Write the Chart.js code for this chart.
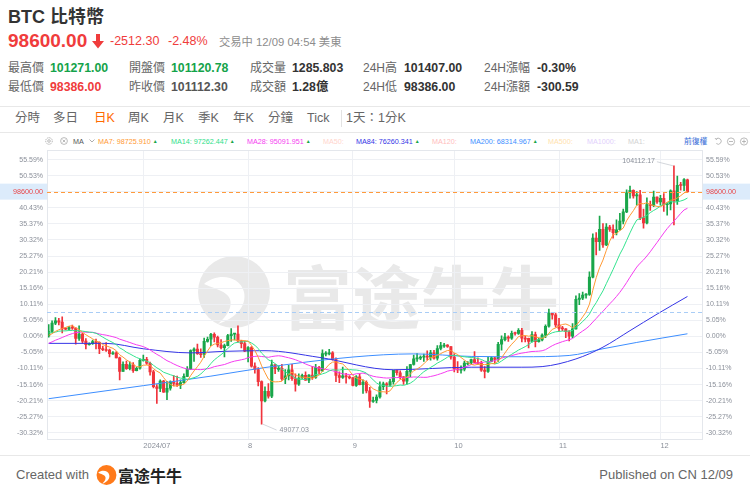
<!DOCTYPE html>
<html><head><meta charset="utf-8">
<script src="https://cdn.jsdelivr.net/npm/chart.js@4.4.1/dist/chart.umd.min.js"></script>
<style>
html,body{margin:0;padding:0}
body{width:750px;height:496px;overflow:hidden;background:#fff;position:relative;font-family:"Liberation Sans","Noto Sans CJK TC",sans-serif;color:#333}
.a{position:absolute;white-space:nowrap}
.lbl{font-size:12px;color:#666;line-height:14px}
.val{font-size:12.3px;font-weight:bold;line-height:14px;color:#333}
.tab{font-size:12.5px;color:#666;line-height:14px}
.leg{font-size:7.2px;line-height:9px}
.tri{color:#18a64a;font-size:5px;vertical-align:1px;margin-left:2px}
#wrap{position:absolute;left:0;top:142px;width:750px;height:311px}
</style></head><body>

<!-- watermark (behind chart) -->
<svg class="a" style="left:196px;top:254px" width="76" height="76" viewBox="0 0 76 76">
  <circle cx="38" cy="38" r="36" fill="#e9e9e9"/>
  <path d="M8 30 C 22 18, 44 22, 48 38 C 51 52, 40 64, 22 70 C 36 58, 38 46, 30 40 C 24 35, 16 34, 8 30 Z" fill="#fff"/>
</svg>
<div class="a" style="left:283px;top:258px;font-size:69px;line-height:72px;font-weight:bold;color:#e9e9e9;font-family:'Noto Sans CJK SC'">富途牛牛</div>

<!-- header -->
<div class="a" style="left:8px;top:7px;font-size:18px;line-height:20px;font-weight:bold;color:#333">BTC 比特幣</div>
<div class="a" style="left:8px;top:30px;font-size:19px;line-height:22px;font-weight:bold;color:#f03c3c">98600.00</div>
<svg class="a" style="left:92px;top:34px" width="12" height="15" viewBox="0 0 12 15"><path d="M4 0 H8 V7 H12 L6 14.5 L0 7 H4 Z" fill="#f03c3c"/></svg>
<div class="a" style="left:110px;top:34px;font-size:12.5px;line-height:15px;color:#f03c3c">-2512.30</div>
<div class="a" style="left:168px;top:34px;font-size:12.5px;line-height:15px;color:#f03c3c">-2.48%</div>
<div class="a" style="left:219px;top:35px;font-size:11.3px;line-height:14px;color:#8c8c8c">交易中 12/09 04:54 美東</div>

<div class="a lbl" style="left:8px;top:61px">最高價</div><div class="a val" style="left:50px;top:61px;color:#14a34a">101271.00</div>
<div class="a lbl" style="left:129px;top:61px">開盤價</div><div class="a val" style="left:171px;top:61px;color:#14a34a">101120.78</div>
<div class="a lbl" style="left:250px;top:61px">成交量</div><div class="a val" style="left:292px;top:61px">1285.803</div>
<div class="a lbl" style="left:363px;top:61px">24H高</div><div class="a val" style="left:404px;top:61px">101407.00</div>
<div class="a lbl" style="left:484px;top:61px">24H漲幅</div><div class="a val" style="left:537px;top:61px">-0.30%</div>

<div class="a lbl" style="left:8px;top:80px">最低價</div><div class="a val" style="left:50px;top:80px;color:#f03c3c">98386.00</div>
<div class="a lbl" style="left:129px;top:80px">昨收價</div><div class="a val" style="left:171px;top:80px;color:#555">101112.30</div>
<div class="a lbl" style="left:250px;top:80px">成交額</div><div class="a val" style="left:292px;top:80px">1.28億</div>
<div class="a lbl" style="left:363px;top:80px">24H低</div><div class="a val" style="left:404px;top:80px">98386.00</div>
<div class="a lbl" style="left:484px;top:80px">24H漲額</div><div class="a val" style="left:537px;top:80px">-300.59</div>

<!-- tabs -->
<div class="a" style="left:0;top:106px;width:750px;height:1px;background:#e8e8e8"></div>
<div class="a tab" style="left:15px;top:111px">分時</div>
<div class="a tab" style="left:53px;top:111px">多日</div>
<div class="a tab" style="left:94px;top:111px;color:#ff6a00">日K</div>
<div class="a tab" style="left:128px;top:111px">周K</div>
<div class="a tab" style="left:163px;top:111px">月K</div>
<div class="a tab" style="left:198px;top:111px">季K</div>
<div class="a tab" style="left:233px;top:111px">年K</div>
<div class="a tab" style="left:268px;top:111px">分鐘</div>
<div class="a tab" style="left:307px;top:111px">Tick</div>
<div class="a" style="left:341px;top:110px;width:1px;height:17px;background:#e3e3e3"></div>
<div class="a tab" style="left:346px;top:111px">1天：1分K</div>
<div class="a" style="left:0;top:132px;width:750px;height:1px;background:#e8e8e8"></div>

<!-- MA legend -->
<svg class="a" style="left:45px;top:137px" width="8" height="8" viewBox="0 0 8 8"><circle cx="4" cy="4" r="3.3" fill="none" stroke="#aaa" stroke-width="0.9" stroke-dasharray="1.4 0.8"/><circle cx="4" cy="4" r="1.3" fill="none" stroke="#aaa" stroke-width="0.8"/></svg>
<svg class="a" style="left:60px;top:137px" width="8" height="8" viewBox="0 0 8 8"><circle cx="4" cy="4" r="3.4" fill="none" stroke="#aaa" stroke-width="0.8"/><path d="M2.6 2.6 L5.4 5.4 M5.4 2.6 L2.6 5.4" stroke="#aaa" stroke-width="0.8"/></svg>
<div class="a leg" style="left:73px;top:136.5px;color:#555">MA</div>
<svg class="a" style="left:89px;top:139px" width="6" height="4" viewBox="0 0 6 4"><path d="M0.5 0.5 L3 3 L5.5 0.5" fill="none" stroke="#999" stroke-width="0.8"/></svg>
<div class="a leg" style="left:98px;top:136.5px;color:#ff9933">MA7: 98725.910<span class="tri">▲</span></div>
<div class="a leg" style="left:171px;top:136.5px;color:#2fe08a">MA14: 97262.447<span class="tri">▲</span></div>
<div class="a leg" style="left:247px;top:136.5px;color:#f53cf0">MA28: 95091.951<span class="tri">▲</span></div>
<div class="a leg" style="left:323px;top:136.5px;color:#ffd4cc">MA50:</div>
<div class="a leg" style="left:356px;top:136.5px;color:#3535e6">MA84: 76260.341<span class="tri">▲</span></div>
<div class="a leg" style="left:432px;top:136.5px;color:#ffbcbc">MA120:</div>
<div class="a leg" style="left:470px;top:136.5px;color:#3d8eff">MA200: 68314.967<span class="tri">▲</span></div>
<div class="a leg" style="left:548px;top:136.5px;color:#ffe2ad">MA500:</div>
<div class="a leg" style="left:587px;top:136.5px;color:#e2cffc">MA1000:</div>
<div class="a leg" style="left:628px;top:136.5px;color:#d2d2d2">MA1:</div>
<div class="a leg" style="left:684px;top:136.5px;color:#3b6fd8;font-size:7.8px">前復權</div>
<svg class="a" style="left:714px;top:137px" width="36" height="9" viewBox="0 0 36 9">
  <path d="M2 2.2 A3 3 0 1 1 2.3 6.5" fill="none" stroke="#aaa" stroke-width="0.8"/><path d="M1 1 L2.2 2.6 L3.6 1.4" fill="none" stroke="#aaa" stroke-width="0.8"/>
  <circle cx="17" cy="4.5" r="3.6" fill="none" stroke="#aaa" stroke-width="0.8"/><path d="M15 4.5 H19" stroke="#aaa" stroke-width="0.8"/>
  <circle cx="30" cy="4.5" r="3.6" fill="none" stroke="#aaa" stroke-width="0.8"/><path d="M28 4.5 H32 M30 2.5 V6.5" stroke="#aaa" stroke-width="0.8"/>
</svg>

<div id="wrap"><canvas id="c" width="750" height="311"></canvas></div>

<!-- footer -->
<div class="a" style="left:0;top:455px;width:750px;height:1px;background:#e8e8e8"></div>
<div class="a" style="left:16px;top:467px;font-size:13px;line-height:16px;color:#666">Created with</div>
<svg class="a" style="left:96px;top:464px" width="21" height="22" viewBox="0 0 76 76">
  <circle cx="38" cy="38" r="36" fill="#ff7a1a"/>
  <path d="M8 30 C 22 18, 44 22, 48 38 C 51 52, 40 64, 22 70 C 36 58, 38 46, 30 40 C 24 35, 16 34, 8 30 Z" fill="#fff"/>
</svg>
<div class="a" style="left:118px;top:466px;font-size:16px;line-height:18px;font-weight:bold;color:#222;font-family:'Noto Sans CJK SC'">富途牛牛</div>
<div class="a" style="right:17px;top:467px;font-size:13px;line-height:16px;color:#666">Published on CN 12/09</div>

<script>
// ---- data (USD), daily candles 2024-06-03 .. 2024-12-09 ----
const priorCloses = [62340,61190,63070,60790,60790,61450,62880,61550,66270,65230,67050,66940,66280,71450,70140,69120,67930,68530,69270,68510,69390,68300,67590,68370,67490,67710,67750];
const opens = [67760,68800,70570,71080,70790,69340,69310,69650,69510,67320,
68240,66760,66010,66190,66640,66490,65160,64960,64830,64100,
64250,63180,60280,61810,60860,61710,60430,60970,62680,62850,
62030,60200,57030,56660,58230,55860,56710,58050,57730,57340,
57900,59230,60790,64720,65040,64090,63990,66700,67150,68190,
67580,65930,65370,65780,67910,68240,68250,66790,66200,64620,
65360,61420,60680,58120,53990,56030,55030,61710,60880,60950,
58720,59350,60610,58740,57560,58890,59480,58440,59490,59010,
61180,60380,64090,64180,64260,62830,59420,59030,59370,59120,
58970,57300,59130,57480,57970,56160,53950,54140,54840,57020,
57650,57340,58130,60540,60010,59130,58210,60310,61760,62950,
63200,63350,63580,63340,64260,63140,65180,65790,65890,65600,
63330,60840,60630,60750,62070,62090,62820,62220,62130,60580,
60270,62450,63190,62850,66080,67070,67620,67400,68400,68380,
69030,67370,67360,66680,68160,66640,67010,68020,69910,72720,
72340,70220,69480,69350,68740,67810,69360,75640,75900,76550,
76680,80370,88700,87960,90580,87250,91070,90560,89850,90470,
92310,94290,98350,98890,97670,97900,93010,91950,95860,95640,
97460,96410,97190,95840,96000,98770,96590,99920,99900,101120];
const highs = [70280,71050,71760,71620,71950,69600,69900,70150,69570,69990,
68420,67300,66400,66950,67200,66600,65700,66450,65050,64520,
64500,63370,62320,62480,62320,62200,61200,63000,63800,63300,
62300,60500,57500,58500,58400,58200,58300,59400,59300,58500,
59800,61300,64900,65300,66100,65100,67400,67600,68400,68500,
67800,67100,66100,68200,69400,68300,70000,66900,66800,65600,
65600,62100,61100,58300,57000,57700,62700,61800,61400,61800,
60700,61600,61800,59800,59800,59700,60200,59600,61400,61800,
61400,64900,64500,65000,64500,63200,60200,61200,59900,59400,
59000,59400,59800,58500,58300,56900,54800,55300,58100,58000,
57900,58600,60600,60600,60400,59200,61300,61800,63800,64100,
63600,64000,64700,64800,64800,65800,66500,66300,66000,65600,
64100,62400,61500,62500,62400,62900,64500,63200,62500,61300,
63400,63400,63300,66500,67900,68400,67900,68900,68700,69400,
69500,67800,67400,68800,68700,67400,68300,70200,73600,72900,
72700,71600,69900,69400,69000,70500,76400,76900,77200,76900,
81500,89600,89900,93400,91800,91800,91400,91500,92600,94000,
94900,99000,99800,99000,98600,98900,94900,97300,96600,98700,
97500,97800,98200,96200,99000,104112.17,101900,100600,101400,101271];
const lows = [67610,68560,70230,70200,68510,69150,69130,69220,66100,66900,
66300,65080,65870,66030,65100,64060,64700,64560,63380,63930,
63180,58470,60270,60730,60600,60080,60380,60760,62500,61800,
59500,56800,53500,56000,55800,54300,56300,57200,57100,56600,
57800,59200,60700,62400,63900,63300,63300,66500,65800,66600,
65500,65100,63400,65700,66700,67000,66500,65300,64500,62300,
61200,59900,57200,49077.03,53800,54600,54700,59800,60300,58400,
57700,58500,58400,56100,57300,58800,58400,57900,58600,58800,
59800,60300,63600,63800,62700,58100,57900,58800,57800,58700,
57200,57100,57400,55600,55700,52600,53700,53600,54600,56400,
55500,57300,57600,59500,58700,57500,57600,59200,61600,62400,
62800,62400,62700,62700,62900,62700,64900,65400,65400,62900,
60200,60000,59900,60400,61700,61900,62100,61800,60300,58900,
60100,62400,62000,62400,64800,66800,66700,67100,68000,68200,
66600,66600,65300,66500,65500,66500,66800,67500,69700,71400,
69700,68800,69000,67500,66800,67500,69300,74500,75600,75900,
76500,80200,85100,86100,86700,87100,90100,88700,89400,90400,
91700,94100,97200,97200,95700,92600,90800,91700,94600,95400,
96100,95700,94400,93600,94700,91500,95900,98900,98800,98386];
const closes = [68800,70570,71080,70790,69340,69310,69650,69510,67320,68240,
66760,66010,66190,66640,66490,65160,64960,64830,64100,64250,
63180,60280,61810,60860,61710,60430,60970,62680,62850,62030,
60200,57030,56660,58230,55860,56710,58050,57730,57340,57900,
59230,60790,64720,65040,64090,63990,66700,67150,68190,67580,
65930,65370,65780,67910,68240,68250,66790,66200,64620,65360,
61420,60680,58120,53990,56030,55030,61710,60880,60950,58720,
59350,60610,58740,57560,58890,59480,58440,59490,59010,61180,
60380,64090,64180,64260,62830,59420,59030,59370,59120,58970,
57300,59130,57480,57970,56160,53950,54140,54840,57020,57650,
57340,58130,60540,60010,59130,58210,60310,61760,62950,63200,
63350,63580,63340,64260,63140,65180,65790,65890,65600,63330,
60840,60630,60750,62070,62090,62820,62220,62130,60580,60270,
62450,63190,62850,66080,67070,67620,67400,68400,68380,69030,
67370,67360,66680,68160,66640,67010,68020,69910,72720,72340,
70220,69480,69350,68740,67810,69360,75640,75900,76550,76680,
80370,88700,87960,90580,87250,91070,90560,89850,90470,92310,
94290,98350,98890,97670,97900,93010,91950,95860,95640,97460,
96410,97190,95840,96000,98770,96590,99920,99900,101170,98600];
// long moving averages (candle index, USD)
const ma84Idx = [0,17,28,42,52,64,80,102,125,140,146,156,164,172,180,189];
const ma84Val = [66270,66270,65120,64240,64570,64710,63290,60650,61190,61190,61320,62950,65460,68980,72500,76260];
const ma200Idx = [0,28,48,64,90,108,125,140,154,164,174,189];
const ma200Val = [54480,57260,59290,61120,63360,64030,63490,63420,63690,65120,66470,68315];
// axis tick labels
const yTickLabels = ['55.59%','50.53%','45.48%','40.43%','35.37%','30.32%','25.27%','20.21%','15.16%','10.11%','5.05%','0.00%','-5.05%','-10.11%','-15.16%','-20.21%','-25.27%','-30.32%'];
const xTickIdx = [28,59,90,120,151,181];
const xTickLabels = ['2024/07','8','9','10','11','12'];
const lastPrice = 98600, lastPriceLabel = '98600.00';
const refDashPrice = 72980;
const highIdx = 185, highLabel = '104112.17';
const lowIdx = 63, lowLabel = '49077.03';

const UP = '#19a64a', DOWN = '#f0343c';
const base = opens[0];
const pct = v => (v / base - 1) * 100;
const allCloses = priorCloses.concat(closes);
function maLine(n) {
  return closes.map((_, i) => {
    const end = i + priorCloses.length;
    let s = 0;
    for (let k = end - n + 1; k <= end; k++) s += allCloses[k];
    return {x: i, y: pct(s / n)};
  });
}
const upDay = closes.map((c, i) => c >= opens[i]);
const candleColors = upDay.map(u => u ? UP : DOWN);
const yTickVals = yTickLabels.map(s => parseFloat(s));

const overlay = {
  id: 'overlay',
  afterDatasetsDraw(chart) {
    const {ctx, chartArea: ca, scales: {x, y}} = chart;
    ctx.save();
    ctx.strokeStyle = '#e4e7ec'; ctx.lineWidth = 1;
    ctx.strokeRect(Math.round(ca.left) + 0.5, Math.round(ca.top) + 0.5, Math.round(ca.right - ca.left) - 1, Math.round(ca.bottom - ca.top) - 1);
    ctx.setLineDash([4, 3]);
    let yy = Math.round(y.getPixelForValue(pct(refDashPrice))) + 0.5;
    ctx.strokeStyle = '#a9cdf6';
    ctx.beginPath(); ctx.moveTo(ca.left, yy); ctx.lineTo(ca.right, yy); ctx.stroke();
    yy = Math.round(y.getPixelForValue(pct(lastPrice))) + 0.5;
    ctx.strokeStyle = '#ff9a3c';
    ctx.beginPath(); ctx.moveTo(ca.left, yy); ctx.lineTo(ca.right, yy); ctx.stroke();
    ctx.setLineDash([]);
    ctx.font = '7px "Liberation Sans", Arial, sans-serif';
    ctx.fillStyle = '#8a8f99'; ctx.strokeStyle = '#c8ccd2'; ctx.lineWidth = 0.8;
    const hx = x.getPixelForValue(highIdx), hy = y.getPixelForValue(pct(highs[highIdx]));
    ctx.beginPath(); ctx.moveTo(hx - 1, hy); ctx.lineTo(hx - 17, hy - 4); ctx.stroke();
    ctx.textAlign = 'right'; ctx.textBaseline = 'middle';
    ctx.fillText(highLabel, hx - 19, hy - 5);
    const lx = x.getPixelForValue(lowIdx), ly = y.getPixelForValue(pct(lows[lowIdx]));
    ctx.beginPath(); ctx.moveTo(lx + 1, ly); ctx.lineTo(lx + 15, ly + 6); ctx.stroke();
    ctx.textAlign = 'left';
    ctx.fillText(lowLabel, lx + 18, ly + 6.5);
    ctx.restore();
  },
  afterDraw(chart) {
    const {ctx, chartArea: ca, scales: {y}, width} = chart;
    const yy = y.getPixelForValue(pct(lastPrice));
    ctx.save();
    ctx.fillStyle = '#dcebfb';
    ctx.fillRect(0, yy - 8, ca.left, 16);
    ctx.fillRect(ca.right, yy - 8, width - ca.right, 16);
    ctx.fillStyle = '#e8474a';
    ctx.font = '7.2px "Liberation Sans", Arial, sans-serif';
    ctx.textBaseline = 'middle';
    ctx.textAlign = 'right'; ctx.fillText(lastPriceLabel, ca.left - 4, yy);
    ctx.textAlign = 'left'; ctx.fillText(lastPriceLabel, ca.right + 3, yy);
    ctx.restore();
  }
};

Chart.defaults.font.family = '"Liberation Sans", Arial, sans-serif';
Chart.defaults.color = '#8a8f99';

const yAxisCommon = {
  type: 'linear', min: -32.49, max: 58.54,
  afterBuildTicks: s => { s.ticks = yTickVals.map(v => ({value: v})); },
  border: {display: false}
};

new Chart(document.getElementById('c'), {
  type: 'bar',
  data: {
    datasets: [
      {type: 'line', label: 'MA7', data: maLine(7), borderColor: '#ff9933', borderWidth: 1, pointRadius: 0, order: 0},
      {type: 'line', label: 'MA14', data: maLine(14), borderColor: '#33e38e', borderWidth: 1, pointRadius: 0, order: 0},
      {type: 'line', label: 'MA28', data: maLine(28), borderColor: '#f53cf0', borderWidth: 1, pointRadius: 0, order: 0},
      {type: 'line', label: 'MA84', data: ma84Idx.map((v, i) => ({x: v, y: pct(ma84Val[i])})), borderColor: '#3535e6', borderWidth: 1, pointRadius: 0, cubicInterpolationMode: 'monotone', order: 0},
      {type: 'line', label: 'MA200', data: ma200Idx.map((v, i) => ({x: v, y: pct(ma200Val[i])})), borderColor: '#3d8eff', borderWidth: 1, pointRadius: 0, cubicInterpolationMode: 'monotone', order: 0},
      {type: 'bar', label: 'body', data: closes.map((c, i) => ({x: i, y: [pct(opens[i]), pct(c)]})), backgroundColor: candleColors, barThickness: 2.4, minBarLength: 1, grouped: false, order: 2},
      {type: 'bar', label: 'wick', data: closes.map((c, i) => ({x: i, y: [pct(lows[i]), pct(highs[i])]})), backgroundColor: candleColors, barThickness: 1, grouped: false, order: 3}
    ]
  },
  options: {
    responsive: false, animation: false, events: [],
    layout: {padding: 0},
    plugins: {legend: {display: false}, tooltip: {enabled: false}},
    scales: {
      x: {
        type: 'linear', min: -0.5, max: 193.6, offset: false,
        afterBuildTicks: s => { s.ticks = xTickIdx.map(v => ({value: v})); },
        ticks: {callback: v => xTickLabels[xTickIdx.indexOf(v)], align: 'start', maxRotation: 0, autoSkip: false, padding: 2, font: {size: 7.5}},
        grid: {color: '#eef0f4', drawTicks: false, offset: false},
        border: {display: false},
        afterFit: s => { s.height = 13.3; }
      },
      y: Object.assign({}, yAxisCommon, {
        position: 'left',
        ticks: {callback: v => yTickLabels[yTickVals.indexOf(v)], autoSkip: false, padding: 4, font: {size: 7}},
        grid: {color: '#eef0f4', drawTicks: false},
        afterFit: s => { s.width = 47; }
      }),
      y2: Object.assign({}, yAxisCommon, {
        position: 'right',
        ticks: {callback: v => yTickLabels[yTickVals.indexOf(v)], autoSkip: false, padding: 3, font: {size: 7}},
        grid: {drawOnChartArea: false, drawTicks: false},
        afterFit: s => { s.width = 47; }
      })
    }
  },
  plugins: [overlay]
});
</script>
</body></html>
